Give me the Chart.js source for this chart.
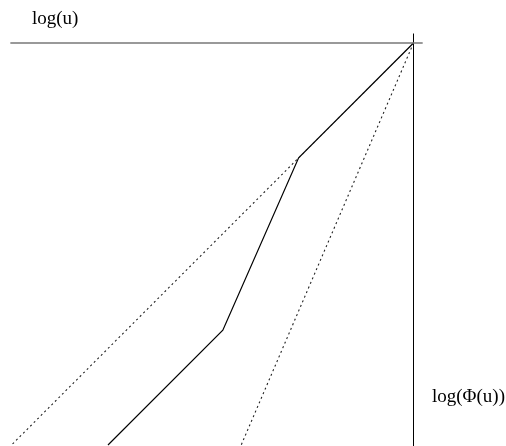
<!DOCTYPE html>
<html>
<head>
<meta charset="utf-8">
<script src="https://cdn.jsdelivr.net/npm/chart.js@4"></script>
<style>
  html,body{margin:0;padding:0;background:#fff;}
  #wrap{position:relative;width:506px;height:446px;}
  .lbl{position:absolute;font-family:"Liberation Serif","Times New Roman",serif;font-size:19px;color:#000;white-space:nowrap;line-height:1;}
</style>
</head>
<body>
<div id="wrap">
  <canvas id="c" width="506" height="446"></canvas>
  <div class="lbl" style="left:32px;top:8px">log(u)</div>
  <div class="lbl" style="left:432px;top:386px">log(Φ(u))</div>
</div>
<script>
// values in log units, origin at the top-right corner of the two axes
const axisU   = [{x:-3.51, y:0}, {x:0.08, y:0}];        // log(u) axis
const axisPhi = [{x:0, y:0.08}, {x:0, y:-3.51}];        // log(Φ(u)) axis
const curveX  = [0, -1.0, -1.66, -2.66];
const curveY  = [0, -1.0, -2.5, -3.5];
const boundLo = [{x:0, y:0}, {x:-3.5, y:-3.5}];         // slope 1
const boundHi = [{x:0, y:0}, {x:-1.5, y:-3.5}];         // steeper bound

const curve = curveX.map((x,i)=>({x, y:curveY[i]}));
const K = 114.86; // px per unit

const line = (data, color, width, dash) => ({
  data, borderColor:color, borderWidth:width, borderDash:dash||[],
  showLine:true, pointRadius:0, tension:0, fill:false
});

new Chart(document.getElementById("c"), {
  type:"scatter",
  data:{ datasets:[
    line(axisU, "#777", 1.5),
    line(axisPhi, "#000", 1),
    line(boundLo, "#222", 1.1, [2,3]),
    line(boundHi, "#222", 1.1, [2,3]),
    line(curve, "#000", 1.2),
  ]},
  options:{
    responsive:false, animation:false,
    layout:{ padding:0 },
    plugins:{ legend:{display:false}, tooltip:{enabled:false} },
    scales:{
      x:{ type:"linear", display:false, min:-413.5/K, max:92.5/K },
      y:{ type:"linear", display:false, min:-403/K, max:43/K },
    },
  },
});
</script>
</body>
</html>
